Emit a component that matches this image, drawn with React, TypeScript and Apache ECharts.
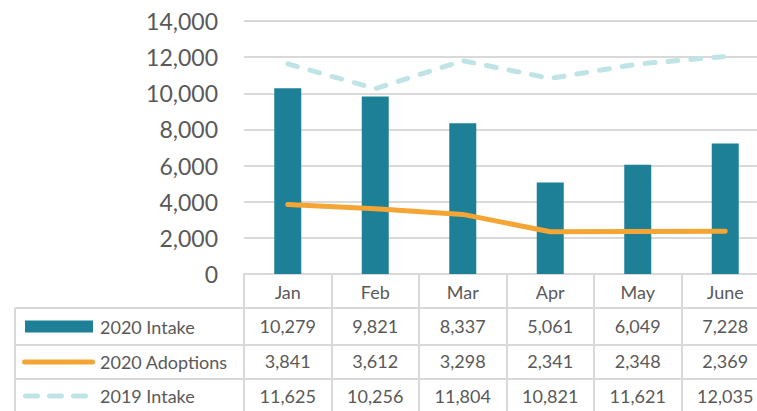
import React, { useEffect, useRef } from "react";
import * as echarts from "echarts";

const months = ["Jan", "Feb", "Mar", "Apr", "May", "June"];
const intake2020 = [10279, 9821, 8337, 5061, 6049, 7228];
const adoptions2020 = [3841, 3612, 3298, 2341, 2348, 2369];
const intake2019 = [11625, 10256, 11804, 10821, 11621, 12035];
const seriesNames = ["2020 Intake", "2020 Adoptions", "2019 Intake"];
const yMin = 0;
const yMax = 14000;
const yInterval = 2000;

const W = 757;
const H = 411;
const FONT = "Lato, 'Open Sans', sans-serif";
const TEXT = "#595959";
const GRID_LINE = "#d9d9d9";
const C_BAR = "#1d8097";
const C_ORANGE = "#f4a533";
const C_DASH = "#c0e4e6";

const gridLeft = 244;
const gridWidth = 525;
const gridTop = 21;
const axisY = 274;
const tableLeft = 15;
// table row boundary lines (y positions)
const rowLines = [308, 345, 379];

const fmt = (v: number) => v.toLocaleString("en-US");

function tableAxis(data: string[], offset: number, tickLen: number, margin: number) {
  return {
    type: "category",
    data,
    position: "bottom",
    offset,
    boundaryGap: true,
    axisLine: { show: true, lineStyle: { color: GRID_LINE, width: 2 } },
    axisTick: { show: true, length: tickLen, inside: false, lineStyle: { color: GRID_LINE, width: 2 } },
    axisLabel: { show: true, interval: 0, margin, fontSize: 18, color: TEXT, fontFamily: FONT },
    splitLine: { show: false },
  };
}

export default function App() {
  const ref = useRef<HTMLDivElement>(null);
  useEffect(() => {
    if (!ref.current) return;
    const chart = echarts.init(ref.current, undefined, { renderer: "svg" });
    const rowCenters = [
      (rowLines[0] + rowLines[1]) / 2,
      (rowLines[1] + rowLines[2]) / 2,
      rowLines[2] + 17,
    ];
    const graphic: any[] = [];
    rowLines.forEach((y) => {
      graphic.push({
        type: "line",
        shape: { x1: tableLeft, y1: y, x2: gridLeft, y2: y },
        style: { stroke: GRID_LINE, lineWidth: 2 },
      });
    });
    graphic.push({
      type: "line",
      shape: { x1: tableLeft, y1: rowLines[0], x2: tableLeft, y2: H + 5 },
      style: { stroke: GRID_LINE, lineWidth: 2 },
    });
    // legend keys
    graphic.push({
      type: "rect",
      shape: { x: 25, y: rowCenters[0] - 6, width: 68, height: 12 },
      style: { fill: C_BAR },
    });
    graphic.push({
      type: "line",
      shape: { x1: 24.5, y1: rowCenters[1], x2: 92.5, y2: rowCenters[1] },
      style: { stroke: C_ORANGE, lineWidth: 5, lineCap: "round" },
    });
    [25.5, 49.5, 73.5].forEach((x) => {
      graphic.push({
        type: "line",
        shape: { x1: x, y1: rowCenters[2], x2: x + 12, y2: rowCenters[2] },
        style: { stroke: C_DASH, lineWidth: 5, lineCap: "round" },
      });
    });
    seriesNames.forEach((name, i) => {
      graphic.push({
        type: "text",
        x: 100,
        y: rowCenters[i],
        style: {
          text: name,
          fill: TEXT,
          font: `18px ${FONT}`,
          textVerticalAlign: "middle",
          verticalAlign: "middle",
        },
      });
    });

    chart.setOption({
      animation: false,
      grid: {
        left: gridLeft,
        top: gridTop,
        width: gridWidth,
        bottom: H - axisY,
        containLabel: false,
        outerBoundsMode: "none",
      },
      xAxis: [
        tableAxis(months, 0, rowLines[0] - axisY, 9),
        tableAxis(intake2020.map(fmt), rowLines[0] - axisY, rowLines[1] - rowLines[0], 9),
        tableAxis(adoptions2020.map(fmt), rowLines[1] - axisY, rowLines[2] - rowLines[1], 7),
        tableAxis(intake2019.map(fmt), rowLines[2] - axisY, 45, 8),
      ],
      yAxis: {
        type: "value",
        min: yMin,
        max: yMax,
        interval: yInterval,
        axisLine: { show: false },
        axisTick: { show: false },
        axisLabel: {
          fontSize: 23,
          color: TEXT,
          fontFamily: FONT,
          margin: 26,
          formatter: (v: number) => fmt(v),
        },
        splitLine: { show: true, lineStyle: { color: GRID_LINE, width: 2 } },
      },
      series: [
        {
          name: seriesNames[0],
          type: "bar",
          data: intake2020,
          barWidth: 27,
          itemStyle: { color: C_BAR },
          z: 2,
        },
        {
          name: seriesNames[1],
          type: "line",
          data: adoptions2020,
          showSymbol: false,
          symbol: "none",
          lineStyle: { color: C_ORANGE, width: 5, cap: "round", join: "round" },
          z: 3,
        },
        {
          name: seriesNames[2],
          type: "line",
          data: intake2019,
          showSymbol: false,
          symbol: "none",
          lineStyle: { color: C_DASH, width: 5, type: [10, 13], cap: "round", join: "round" },
          z: 3,
        },
      ],
      graphic,
    });
    return () => chart.dispose();
  }, []);
  return (
    <div
      ref={ref}
      style={{ position: "fixed", left: 0, top: 0, width: W, height: H, background: "#fff" }}
    />
  );
}
